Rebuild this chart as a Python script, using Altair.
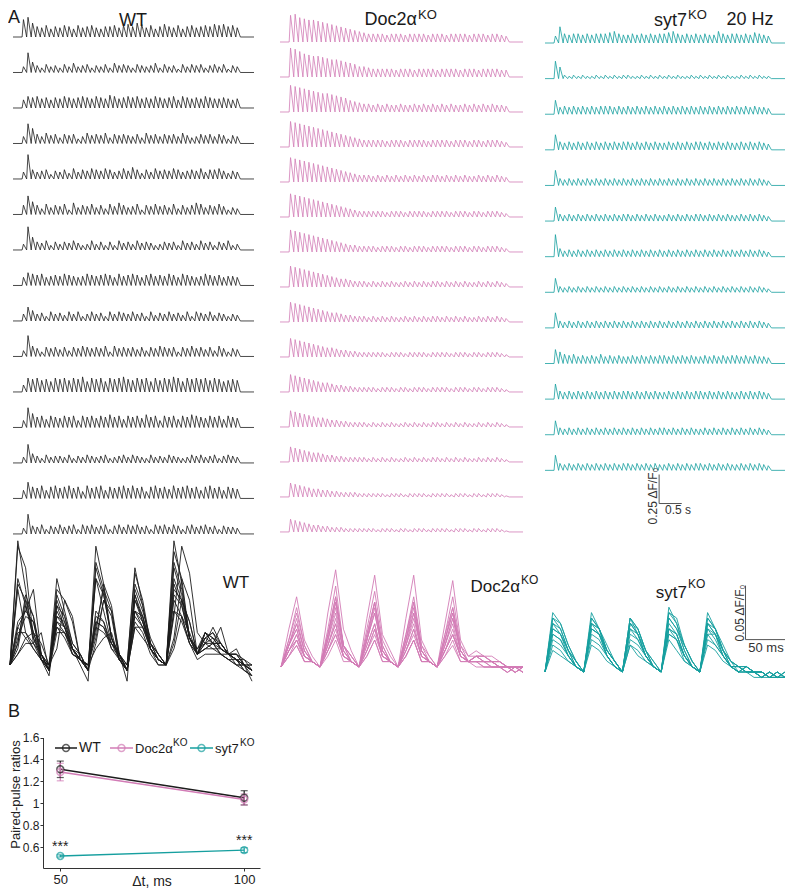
import altair as alt
import pandas as pd

BLACK = "#1c1c1c"
PINK = "#d27cb6"
TEAL = "#169f9f"
FONT = "Liberation Sans"

# ---------------- Panel A (top): single-cell traces, 20 Hz trains ----------------
# one character per stimulus = peak height, base-36, in units of 0.01 dF/F0
WT_TRACES = [
    "fhc98a79 8a97a89a 8799a8ab 9cb8a79b 98a79a89 a9bab9a8",
    "5h964756 47585674 65748676 47656847 56375767 46757365",
    "7a9a8979 8a989a98 a98ba89a 9a898a98 9a7a9898 a9889878",
    "6hd86978 58784697 87958787 68597868 78697568 78687476",
    "6l867847 68596879 87986797 a8586978 79867879 68897576",
    "8gb85968 794a6879 68597a86 79487978 695868a9 68797465",
    "5kb76847 57686458 57474867 58676457 67486758 67476845",
    "7ba9a789 8a9878a9 89a97a89 a979a898 a97a9878 a9897887",
    "6c967486 75868468 67486876 86748576 86758487 68576465",
    "5i974878 68587987 87949787 86858798 78487978 68597476",
    "6cbcab9c bcacbd9c bc9cbcdb acbc9cac bdc9cbcb cacb9aba",
    "6hc9a7a9 8a9a6a9a 8a9b9a7a 9a8b9a6a 9a7a9ba9 8a9a7a98",
    "5g864756 65746576 56745675 76547565 76545767 56746765",
    "7ea9b7ab 9ab9a6b9 ab7a9ab9 b9a6ab9a 8b9ab9a7 ab9a7a98",
    "5h768476 86784878 67847868 78674878 68747867 86747665",
]
DOC2_TRACES = [
    "nolkjjih gfedcba9 87777677 76777767 77677776 77767765",
    "pomkjiih gffedcb9 98777776 77767777 67777677 76777766",
    "nmlkjihg gfedca98 77676766 76676767 67676676 76767665",
    "mlkjihgf edcba987 66666566 65666656 66656665 66566654",
    "lkjihgfe dcba9876 66565656 56565656 65656565 56565654",
    "kjihgfed cba98765 55555455 54555545 55545554 55455543",
    "jihgfedc ba987665 55545554 55455545 55545554 55455543",
    "ihgfedcb a9877655 54545454 45454545 54545454 45454543",
    "hgfedcba 98876655 54545454 45454545 54545454 45454543",
    "gfedcba9 88766554 44444344 43444434 44434443 44344432",
    "fedcba98 87665544 44434443 44344434 44434443 44344432",
    "edcba988 76655444 43434343 34343434 43434343 34343432",
    "dcba9887 66554444 43434343 34343434 43434343 34343432",
    "cba98776 65544443 33333233 32333323 33323332 33233321",
    "ba987665 54443333 33323332 33233323 33323332 33233321",
]
SYT7_TRACES = [
    "6e878878 78889a87 78787878 89a87878 7877a878 87879876",
    "fa323232 23232323 32232323 23232232 32323232 23232322",
    "c6767676 76777676 76767676 76767676 76767676 76767665",
    "d7676767 67676767 76767676 67676767 76767676 67676765",
    "d6565656 56565656 56565656 56565656 56565656 56565654",
    "c6565656 56565656 65656565 56565656 65656565 56565654",
    "j7565656 56565656 56565656 56565656 56565656 56565654",
    "c5454545 45454545 45454545 45454545 45454545 45454543",
    "d6565656 56565656 56565656 56565656 56565656 56565654",
    "ca878676 76867676 67676767 76767676 67676767 76767665",
    "d7676767 67676767 76767676 67676767 76767676 67676765",
    "c6565656 56565656 56565656 65656565 56565656 56565654",
    "d6565656 56565656 65656565 56565656 65656565 56565654",
]

# ---------------- Panel A (bottom): overlaid responses, one sample per 10 ms ----------------
# base-36, '4' = baseline, each step = 0.005 dF/F0
WT_OVERLAY = [
    "4kf96 3fb75 3qj95 3gc86 4ni97 8976543",
    "4ri85 3eb74 1mh96 3ec75 4kg97 a986644",
    "48hd6 47gd5 4ajf6 3hd74 49kg6 7865541",
    "469a8 4cb75 479a5 3b975 47da6 8776532",
    "4cei6 3igc5 38ge5 4mf75 4igc6 9886742",
    "4aa75 4db65 3cb86 3db75 4ec86 7865443",
    "48gd5 3ca65 4bie6 1jf85 4dqla 8b86543",
    "47fa5 4ba76 3ec75 3ca64 4gd86 9a76532",
    "49dc6 3fd86 3dc86 4ed75 4hf96 a886644",
    "4qm95 3hd75 3ni96 4lg86 4rj97 9a86543",
    "4688a 3aa75 4ba86 3eb75 48gc6 7766443",
    "4jga6 4ke86 3kh95 3ie96 4pk96 a8b6543",
    "4b975 4b965 4cb76 3bb85 4ed85 6665432",
    "4bec5 2dc75 49gd5 3gd86 4jf96 8876553",
    "4ia86 3gc75 4ke85 3hc75 4mh96 a976654",
]
DOC2_OVERLAY = [
    "4bh96 4emb7 4dla7 4dl96 4ck96 7665444",
    "49f85 4bj86 4bi96 4ah86 4ah86 6655443",
    "49e85 4ah86 4ag85 4ag85 4af85 6555443",
    "48d75 4ag85 4ag85 49f75 49e75 6655444",
    "48c75 49f75 49e75 49e75 49e75 5554444",
    "48b65 49e75 49e75 48d75 48d75 6554434",
    "47a65 48d75 48c65 48c65 48c65 5544443",
    "47965 48c65 47b65 47b65 47b65 5554434",
    "47a65 47b65 47b65 47a65 47a65 5544344",
    "46955 47a65 47a65 46955 47a65 5444343",
    "46855 46955 46955 46955 46855 4444434",
    "46855 47a65 46955 46955 46955 5444344",
    "47965 48c65 48c65 47b65 47a65 5554434",
    "48b65 49g85 49f75 48e75 48d75 6554444",
    "48c75 4ah86 49g75 49g75 49f75 6655444",
]
SYT7_OVERLAY = [
    "4fd96 4fc86 4eb85 4gd96 4fc85 5544333",
    "4db85 4ec86 4db75 4ec85 4db75 5443434",
    "4ec86 4dc75 4ec86 4fd85 4ec86 4544343",
    "4cb75 4cb75 4ca75 4db75 4ca75 4544333",
    "4ba75 4cb86 4ba75 4cb75 4bb86 5443434",
    "4a975 4ba75 4a975 4ba65 4b975 4443433",
    "4ed96 4db86 4ec85 4fe96 4db86 5544343",
    "49865 4a975 49865 4ba75 4a975 4443343",
    "4ba75 4ec96 4db75 4ca75 4ec96 5444333",
    "48765 49865 49765 4a865 49865 4433434",
    "4dc85 4cb75 4dc86 4cb75 4dc85 5443433",
    "4cb86 4dc86 4cb75 4ec96 4cb75 4544343",
]

# ---------------- Panel B: paired-pulse ratios ----------------
GROUPS = ["WT", "Doc2α KO", "syt7 KO"]
DT_MS = [50, 100]
PPR_WT = [1.31, 1.05]
SEM_WT = [0.075, 0.065]
PPR_DOC2 = [1.285, 1.035]
SEM_DOC2 = [0.08, 0.05]
PPR_SYT7 = [0.52, 0.573]
SEM_SYT7 = [0.01, 0.022]
STARS = ["***", "***"]

PERIOD = 0.1
RISE = 0.03


def trace_frame(traces, row_step):
    recs = []
    for r, s in enumerate(traces):
        amps = [int(c, 36) * 0.01 for c in s.replace(" ", "")]
        base = -r * row_step
        pts = [(-0.2, base)]
        for i, a in enumerate(amps):
            pts.append((i * PERIOD, base))
            pts.append((i * PERIOD + RISE, base + a))
        n = len(amps)
        pts.append((n * PERIOD, base))
        pts.append((n * PERIOD + 0.3, base))
        for j, (t, v) in enumerate(pts):
            recs.append({"trace": r, "order": j, "t": t, "v": v})
    return pd.DataFrame(recs)


def overlay_frame(traces):
    recs = []
    for r, s in enumerate(traces):
        for k, c in enumerate(s.replace(" ", "")):
            recs.append({"trace": r, "ms": 10 * k, "v": (int(c, 36) - 4) * 0.005})
    return pd.DataFrame(recs)


TR_PX = 116.0   # px per dF/F0 (traces)
OV_PX = 1080.0  # px per dF/F0 (overlays)
W, H = 777, 880


def trace_layer(df, color, xr, base_px):
    return alt.Chart(df).mark_line(color=color, strokeWidth=0.8).encode(
        x=alt.X("t:Q", axis=None,
                scale=alt.Scale(domain=[-0.2, 5.1], range=xr, nice=False, zero=False)),
        y=alt.Y("v:Q", axis=None,
                scale=alt.Scale(domain=[-4.6, 0.3], range=[base_px + 4.6 * TR_PX, base_px - 0.3 * TR_PX],
                                nice=False, zero=False)),
        detail="trace:N",
        order="order:Q",
    )


def overlay_layer(df, color, xr, base_px):
    return alt.Chart(df).mark_line(color=color, strokeWidth=0.9).encode(
        x=alt.X("ms:Q", axis=None,
                scale=alt.Scale(domain=[0, 310], range=xr, nice=False, zero=False)),
        y=alt.Y("v:Q", axis=None,
                scale=alt.Scale(domain=[-0.03, 0.13], range=[base_px + 0.03 * OV_PX, base_px - 0.13 * OV_PX],
                                nice=False, zero=False)),
        detail="trace:N",
    )


ONE = pd.DataFrame({"_": [0]})


def label(text, x, y, size=16, align="center", baseline="middle", angle=0, color="#1a1a1a"):
    kw = dict(text=text, fontSize=size, align=align, baseline=baseline, color=color, font=FONT)
    if angle:
        kw["angle"] = angle
    return alt.Chart(ONE).mark_text(**kw).encode(x=alt.value(x), y=alt.value(y))


# --- top traces ---
wt_tr = trace_layer(trace_frame(WT_TRACES, 0.306), BLACK, [5, 246], 29)
doc2_tr = trace_layer(trace_frame(DOC2_TRACES, 0.3017), PINK, [272, 515], 34)
syt7_tr_lines = trace_layer(trace_frame(SYT7_TRACES, 0.307), TEAL, [537, 777], 35)
sb1 = pd.DataFrame({"t": [2.32], "t2": [2.82], "v": [-3.97], "v2": [-3.72]})
sb_v = alt.Chart(sb1).mark_rule(color="#555", strokeWidth=1).encode(x="t:Q", y="v:Q", y2="v2:Q")
sb_h = alt.Chart(sb1).mark_rule(color="#555", strokeWidth=1).encode(x="t:Q", x2="t2:Q", y="v:Q")
syt7_tr = alt.layer(syt7_tr_lines, sb_v, sb_h)

# --- overlays ---
wt_ov = overlay_layer(overlay_frame(WT_OVERLAY), BLACK, [2, 244], 657)
doc2_ov = overlay_layer(overlay_frame(DOC2_OVERLAY), PINK, [273, 515], 659)
syt7_ov_lines = overlay_layer(overlay_frame(SYT7_OVERLAY), TEAL, [537, 777], 664)
sb2 = pd.DataFrame({"ms": [259], "ms2": [310], "v": [0.03], "v2": [0.08]})
sb2_v = alt.Chart(sb2).mark_rule(color="#555", strokeWidth=1).encode(x="ms:Q", y="v:Q", y2="v2:Q")
sb2_h = alt.Chart(sb2).mark_rule(color="#555", strokeWidth=1).encode(x="ms:Q", x2="ms2:Q", y="v:Q")
syt7_ov = alt.layer(syt7_ov_lines, sb2_v, sb2_h)

# --- panel B ---
rows = []
for g, m, e in [(GROUPS[0], PPR_WT, SEM_WT), (GROUPS[1], PPR_DOC2, SEM_DOC2), (GROUPS[2], PPR_SYT7, SEM_SYT7)]:
    for d, mv, ev in zip(DT_MS, m, e):
        rows.append({"group": g, "dt": d, "ppr": mv, "lo": mv - ev, "hi": mv + ev})
dfB = pd.DataFrame(rows)
dfStars = pd.DataFrame({"dt": DT_MS, "ppr": PPR_SYT7, "s": STARS})

AX = dict(grid=False, domainColor="#333", tickColor="#333", labelColor="#222", titleColor="#222",
          labelFont=FONT, titleFont=FONT, titleFontWeight="normal", tickSize=3)
bx = alt.X("dt:Q", scale=alt.Scale(domain=[45.3, 104.3], range=[35, 252], nice=False, zero=False),
           axis=alt.Axis(orient="bottom", offset=-(H - 860), values=DT_MS, title="Δt, ms",
                         labelPadding=2, titleY=6, titleBaseline="top", titleFontSize=14,
                         labelFontSize=13, **AX))
by = alt.Y("ppr:Q", scale=alt.Scale(domain=[0.41, 1.6], range=[860, 729.5], nice=False, zero=False),
           axis=alt.Axis(orient="left", offset=-35, values=[0.6, 0.8, 1.0, 1.2, 1.4, 1.6], format=".1~f",
                         title="Paired-pulse ratios", labelPadding=1, titleX=-21, titleY=786,
                         titleFontSize=13, labelFontSize=12, **AX))
col = alt.Color("group:N", scale=alt.Scale(domain=GROUPS, range=[BLACK, PINK, TEAL]), legend=None)
baseB = alt.Chart(dfB)
b_line = baseB.mark_line(strokeWidth=1.5).encode(x=bx, y=by, color=col)
b_err = baseB.mark_rule(strokeWidth=1.2).encode(x="dt:Q", y="lo:Q", y2="hi:Q", color=col)
b_cap1 = baseB.mark_tick(orient="horizontal", size=7, thickness=1.2).encode(x="dt:Q", y="lo:Q", color=col)
b_cap2 = baseB.mark_tick(orient="horizontal", size=7, thickness=1.2).encode(x="dt:Q", y="hi:Q", color=col)
b_pts = baseB.mark_point(shape="circle", size=48, strokeWidth=1.5, filled=False).encode(x="dt:Q", y="ppr:Q", color=col)
b_star = alt.Chart(dfStars).mark_text(fontSize=14, dy=-5, baseline="alphabetic", font=FONT, color="#222").encode(
    x="dt:Q", y="ppr:Q", text="s:N")
panelB = alt.layer(b_line, b_err, b_cap1, b_cap2, b_pts, b_star)


def leg_item(color, x1, x2, y):
    r = alt.Chart(ONE).mark_rule(color=color, strokeWidth=1.5).encode(
        x=alt.value(x1), x2=alt.value(x2), y=alt.value(y))
    p = alt.Chart(ONE).mark_point(shape="circle", size=48, strokeWidth=1.5, filled=False, color=color).encode(
        x=alt.value((x1 + x2) / 2), y=alt.value(y))
    return [r, p]


texts = [
    label("A", 0, 1, size=18, align="left", baseline="top"),
    label("WT", 125, 13, size=18),
    label("Doc2α", 409, 12, size=18, align="right"),
    label("KO", 410, 7, size=13, align="left"),
    label("syt7", 679, 13, size=18, align="right"),
    label("KO", 680, 7, size=13, align="left"),
    label("20 Hz", 742, 12, size=18),
    label("0.25 ΔF/F₀", 649, 488, size=12, angle=270, baseline="alphabetic", color="#333"),
    label("0.5 s", 670, 502, size=12, color="#333"),
    label("WT", 228, 575, size=17),
    label("Doc2α", 512, 579, size=17, align="right"),
    label("KO", 513, 572, size=12, align="left"),
    label("syt7", 679, 585, size=17, align="right"),
    label("KO", 680, 576, size=12, align="left"),
    label("0.05 ΔF/F₀", 736, 605, size=12, angle=270, baseline="alphabetic", color="#333"),
    label("50 ms", 758, 640, size=13, color="#333"),
    label("B", 0, 695, size=18, align="left", baseline="top"),
    label("WT", 71, 740, size=14, align="left"),
    label("Doc2α", 127, 741, size=13, align="left"),
    label("KO", 165, 735, size=10, align="left"),
    label("syt7", 207, 741, size=13, align="left"),
    label("KO", 232, 735, size=10, align="left"),
]
legend = leg_item(BLACK, 47, 69, 740) + leg_item(PINK, 102, 125, 740) + leg_item(TEAL, 182, 205, 740)

chart = alt.layer(
    wt_tr, doc2_tr, syt7_tr, wt_ov, doc2_ov, syt7_ov, panelB, *legend, *texts
).resolve_scale(x="independent", y="independent").properties(
    width=W, height=H, padding=0, autosize=alt.AutoSizeParams(type="none")
).configure(font=FONT, view=alt.ViewConfig(stroke="transparent"))

chart.save("out.html", embed_options={"renderer": "svg", "actions": False})
